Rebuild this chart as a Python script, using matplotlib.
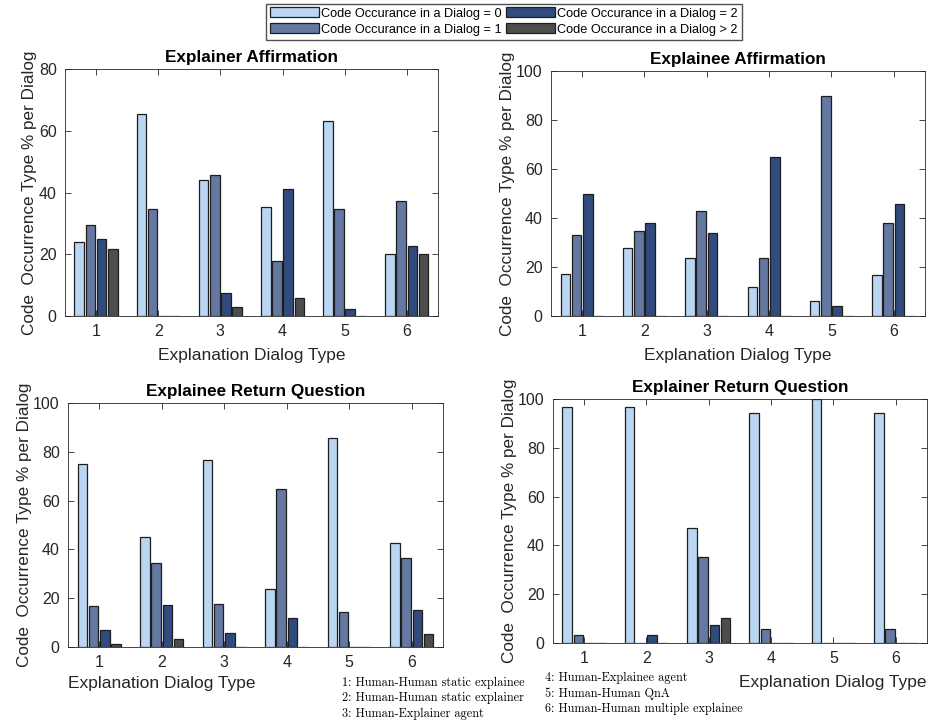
import matplotlib.pyplot as plt
import numpy as np

plt.rcParams['font.family'] = ['Liberation Sans', 'DejaVu Sans']

dialog_types = [1, 2, 3, 4, 5, 6]
series_names = ['Code Occurance in a Dialog = 0', 'Code Occurance in a Dialog = 1',
                'Code Occurance in a Dialog = 2', 'Code Occurance in a Dialog > 2']
colors = ['#bbd6f3', '#6478a2', '#314b7e', '#4d4d4d']

# rows = dialog type 1..6, columns = occurrence 0, 1, 2, >2
explainer_affirmation = [
    [24.0, 29.6, 25.0, 21.6],
    [65.4, 34.5, 0.0, 0.0],
    [44.2, 45.6, 7.4, 3.0],
    [35.3, 17.7, 41.1, 5.9],
    [63.2, 34.6, 2.2, 0.0],
    [20.0, 37.2, 22.8, 20.0],
]
explainee_affirmation = [
    [17.1, 33.0, 50.0, 0.0],
    [27.6, 34.5, 37.9, 0.0],
    [23.6, 42.7, 33.8, 0.0],
    [11.8, 23.6, 64.8, 0.0],
    [6.1, 89.8, 4.1, 0.0],
    [16.6, 37.9, 45.6, 0.0],
]
explainee_return_question = [
    [75.0, 17.0, 6.8, 1.1],
    [44.9, 34.5, 17.2, 3.4],
    [76.5, 17.6, 5.9, 0.0],
    [23.6, 64.8, 11.7, 0.0],
    [85.7, 14.2, 0.0, 0.0],
    [42.8, 36.6, 15.2, 5.4],
]
explainer_return_question = [
    [96.6, 3.4, 0.0, 0.0],
    [96.6, 0.0, 3.4, 0.0],
    [47.1, 35.3, 7.4, 10.3],
    [94.2, 5.9, 0.0, 0.0],
    [100.0, 0.0, 0.0, 0.0],
    [94.4, 5.6, 0.0, 0.0],
]

panels = [
    ('Explainer Affirmation', explainer_affirmation, 80, [0.0695, 0.5617, 0.3989, 0.3426]),
    ('Explainee Affirmation', explainee_affirmation, 100, [0.5893, 0.5617, 0.4000, 0.3398]),
    ('Explainee Return Question', explainee_return_question, 100, [0.0727, 0.1026, 0.4011, 0.3384]),
    ('Explainer Return Question', explainer_return_question, 100, [0.5914, 0.1082, 0.4000, 0.3384]),
]

fig = plt.figure(figsize=(9.35, 7.21), dpi=100)
x = np.array(dialog_types)
width = 0.155
axes = []
for title, data, ymax, pos in panels:
    ax = fig.add_axes(pos)
    vals = np.array(data)
    for i in range(4):
        ax.bar(x + (i - 1.5) * 0.18, vals[:, i], width, color=colors[i],
               edgecolor='#1e1e1e', linewidth=0.9, label=series_names[i])
    ax.set_xlim(0.5, 6.5)
    ax.set_ylim(0, ymax)
    ax.set_xticks(dialog_types)
    ax.set_yticks(np.arange(0, ymax + 1, 20))
    ax.tick_params(direction='in', top=True, right=True, labelsize=11.5,
                   colors='#262626', length=4, width=0.6, pad=6)
    for s in ax.spines.values():
        s.set_color('#262626')
        s.set_linewidth(0.6)
    ax.set_title(title, fontsize=12.3, fontweight='bold', pad=5)
    ax.set_ylabel('Code  Occurrence Type % per Dialog', fontsize=12.3, color='#262626',
                  labelpad=1)
    ax.set_xlabel('Explanation Dialog Type', fontsize=12.5, color='#262626', labelpad=6)
    axes.append(ax)

# bottom row labels are shifted to make room for the key
axes[2].xaxis.set_label_coords(0.0, -0.119)
axes[2].xaxis.label.set_ha('left')
axes[3].xaxis.set_label_coords(1.0, -0.131)
axes[3].xaxis.label.set_ha('right')

handles, labels = axes[0].get_legend_handles_labels()
fig.legend(handles, labels, loc='upper center', bbox_to_anchor=(0.539, 0.995), ncol=2,
           fontsize=9.2, frameon=True, fancybox=False, edgecolor='#262626',
           handlelength=3.8, handleheight=0.8, handletextpad=0.2, columnspacing=0.35,
           labelspacing=0.28, borderpad=0.3, borderaxespad=0.0)

key_left = ['1: Human-Human static explainee', '2: Human-Human static explainer',
            '3: Human-Explainer agent']
key_right = ['4: Human-Explainee agent', '5: Human-Human QnA',
             '6: Human-Human multiple explainee']
for j, t in enumerate(key_left):
    fig.text(342 / 935, 1 - (683 + 15.3 * j) / 721, t, family='cmr10', fontsize=8.8,
             va='center', ha='left')
for j, t in enumerate(key_right):
    fig.text(545 / 935, 1 - (678 + 15.5 * j) / 721, t, family='cmr10', fontsize=8.8,
             va='center', ha='left')

fig.savefig('out.png', dpi=100)
